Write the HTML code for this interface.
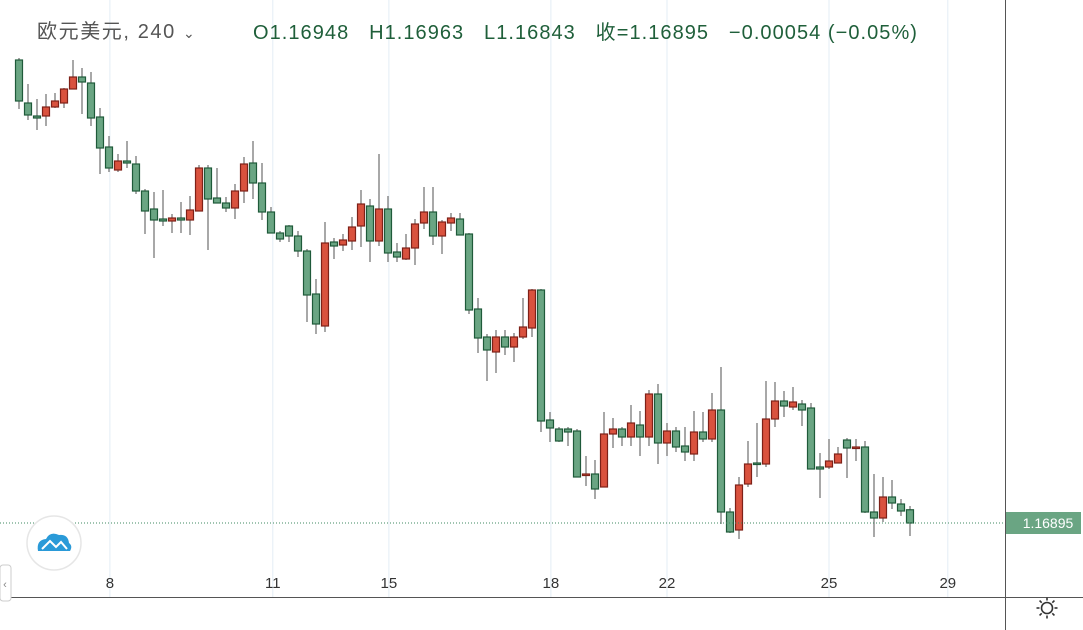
<!DOCTYPE html>
<html><head><meta charset="utf-8">
<style>
html,body{margin:0;padding:0;background:#fff;width:1083px;height:630px;overflow:hidden;font-family:"Liberation Sans","Noto Sans CJK SC",sans-serif;}
#hdr{position:absolute;left:37px;top:15px;font-size:20px;color:#555;white-space:nowrap;letter-spacing:1.6px}
#ohlc{position:absolute;left:253px;top:16px;font-size:20px;color:#1f5f3a;white-space:nowrap;letter-spacing:1.05px}
svg{position:absolute;left:0;top:0}
</style></head><body>
<svg id="chart" width="1083" height="630" xmlns="http://www.w3.org/2000/svg"></svg>
<div id="hdr">欧元美元, 240 <span style="font-size:14px">&#8964;</span></div>
<div id="ohlc">O1.16948&nbsp;&nbsp;&nbsp;H1.16963&nbsp;&nbsp;&nbsp;L1.16843&nbsp;&nbsp;&nbsp;收=1.16895&nbsp;&nbsp;&nbsp;−0.00054 (−0.05%)</div>
<script>
const opens=[1.18747,1.18575,1.18523,1.18523,1.18559,1.18575,1.18631,1.18679,1.18655,1.18519,1.18399,1.18307,1.18343,1.18331,1.18223,1.18151,1.18111,1.18103,1.18115,1.18107,1.18143,1.18315,1.18195,1.18175,1.18155,1.18223,1.18335,1.18255,1.18139,1.18055,1.18083,1.18043,1.17983,1.17811,1.17683,1.18019,1.18007,1.18023,1.18083,1.18163,1.18023,1.18151,1.17979,1.17951,1.17995,1.18095,1.18139,1.18043,1.18095,1.18111,1.18051,1.17751,1.17639,1.17579,1.17639,1.17599,1.17639,1.17675,1.17827,1.17307,1.17271,1.17271,1.17263,1.17087,1.17091,1.17039,1.17251,1.17271,1.17239,1.17287,1.17239,1.17411,1.17215,1.17263,1.17203,1.17171,1.17259,1.17231,1.17347,1.16939,1.16867,1.17051,1.17135,1.17131,1.17311,1.17383,1.17359,1.17371,1.17355,1.17119,1.17119,1.17135,1.17227,1.17195,1.17199,1.16939,1.16915,1.16999,1.16971,1.16948];
const highs=[1.18755,1.18651,1.18591,1.18611,1.18615,1.18635,1.18747,1.18715,1.18699,1.18555,1.18443,1.18371,1.18423,1.18363,1.18231,1.18219,1.18227,1.18131,1.18179,1.18203,1.18327,1.18327,1.18315,1.18199,1.18251,1.18359,1.18423,1.18335,1.18159,1.18063,1.18087,1.18063,1.17991,1.17871,1.18099,1.18035,1.18051,1.18119,1.18227,1.18191,1.18371,1.18203,1.18015,1.18051,1.18111,1.18239,1.18239,1.18107,1.18135,1.18135,1.18055,1.17795,1.17651,1.17667,1.17667,1.17655,1.17795,1.17831,1.17831,1.17339,1.17279,1.17279,1.17271,1.17163,1.17147,1.17339,1.17315,1.17279,1.17367,1.17343,1.17427,1.17451,1.17295,1.17279,1.17279,1.17343,1.17339,1.17415,1.17519,1.16955,1.17079,1.17223,1.17295,1.17463,1.17459,1.17423,1.17439,1.17387,1.17375,1.17175,1.17231,1.17199,1.17235,1.17231,1.17223,1.17091,1.17079,1.17067,1.16991,1.16963];
const lows=[1.18551,1.18507,1.18467,1.18483,1.18555,1.18555,1.18631,1.18531,1.18483,1.18291,1.18299,1.18299,1.18315,1.18211,1.18051,1.17955,1.18083,1.18055,1.18055,1.18047,1.18143,1.17987,1.18175,1.18139,1.18111,1.18175,1.18191,1.18107,1.18055,1.18019,1.18019,1.17959,1.17699,1.17651,1.17659,1.17951,1.17983,1.17987,1.17999,1.17939,1.18003,1.17939,1.17939,1.17947,1.17927,1.18071,1.18007,1.17971,1.18063,1.18047,1.17731,1.17575,1.17463,1.17495,1.17567,1.17539,1.17631,1.17639,1.17259,1.17219,1.17219,1.17203,1.17079,1.17043,1.16991,1.17039,1.17195,1.17203,1.17203,1.17163,1.17203,1.17131,1.17163,1.17179,1.17143,1.17143,1.17219,1.17219,1.16891,1.16855,1.16831,1.17039,1.17079,1.17119,1.17279,1.17319,1.17347,1.17283,1.17111,1.16995,1.17111,1.17135,1.17075,1.17143,1.16935,1.16839,1.16899,1.16951,1.16923,1.16843];
const closes=[1.18583,1.18527,1.18515,1.18559,1.18583,1.18631,1.18679,1.18659,1.18515,1.18395,1.18315,1.18343,1.18335,1.18223,1.18143,1.18107,1.18103,1.18115,1.18107,1.18147,1.18315,1.18191,1.18175,1.18155,1.18223,1.18331,1.18255,1.18139,1.18055,1.18031,1.18043,1.17983,1.17807,1.17691,1.18015,1.18003,1.18027,1.18079,1.18171,1.18023,1.18151,1.17975,1.17959,1.17995,1.18091,1.18139,1.18043,1.18099,1.18115,1.18047,1.17747,1.17635,1.17587,1.17639,1.17599,1.17639,1.17679,1.17827,1.17303,1.17275,1.17223,1.17259,1.17079,1.17091,1.17031,1.17251,1.17271,1.17239,1.17295,1.17239,1.17411,1.17215,1.17263,1.17199,1.17179,1.17259,1.17231,1.17347,1.16939,1.16859,1.17047,1.17131,1.17131,1.17311,1.17383,1.17363,1.17379,1.17347,1.17111,1.17111,1.17143,1.17171,1.17195,1.17199,1.16939,1.16915,1.16999,1.16975,1.16943,1.16895];
const dateLabels=["8","11","15","18","22","25","29"];
const dateIndex=[10.1,28.2,41.1,59.1,72,90,103.2];
const lastPrice=1.16895;

const NS="http://www.w3.org/2000/svg";
const svg=document.getElementById('chart');
function xAt(i){return 19+9*i;}
function yAt(p){return 523-(p-1.16895)/0.00004;}
function mk(t,a,parent){const e=document.createElementNS(NS,t);for(const k in a)e.setAttribute(k,a[k]);(parent||svg).appendChild(e);return e;}

dateIndex.forEach((d,k)=>{
  const g=mk('line',{x1:xAt(d),x2:xAt(d),y1:0,y2:597,stroke:'#e3edf5','stroke-width':1});
  
  
  const t=mk('text',{x:xAt(d),y:588,'text-anchor':'middle','font-size':15,fill:'#333','font-family':'Liberation Sans, sans-serif'});
  t.textContent=dateLabels[k];
  
  
});
let a1=mk('line',{x1:0,x2:1083,y1:597.5,y2:597.5,stroke:'#555','stroke-width':1});


let a2=mk('line',{x1:1005.5,x2:1005.5,y1:0,y2:630,stroke:'#555','stroke-width':1});



for(let i=0;i<opens.length;i++){
  const o=opens[i],h=highs[i],l=lows[i],c=closes[i];
  const up=c>=o;
  const x=xAt(i);
  const w=mk('line',{x1:x,x2:x,y1:yAt(h),y2:yAt(l),stroke:'#8a8a8a','stroke-width':1.5});
  
  
  const top=yAt(Math.max(o,c)),bot=yAt(Math.min(o,c));
  const b=mk('rect',{x:x-3.5,y:top,width:7,height:Math.max(bot-top,1.5),fill:up?'#d9523e':'#6aa583',stroke:up?'#7e2118':'#1f5a3a','stroke-width':1.2});
  
  
}

const ly=yAt(lastPrice);
let lp=mk('line',{x1:0,x2:1005,y1:ly,y2:ly,stroke:'#3f8a60','stroke-width':1,'stroke-dasharray':'1,2'});


let lb=mk('rect',{x:1006,y:ly-11,width:75,height:22,fill:'#6aa583'});


let lt=mk('text',{x:1048,y:ly+5,'text-anchor':'middle','font-size':14,fill:'#fff','font-family':'Liberation Sans, sans-serif'});
lt.textContent=lastPrice.toFixed(5);



let lg=mk('circle',{cx:54,cy:543,r:27,fill:'#fff',stroke:'#e6e6e6','stroke-width':1.5});


let cl=mk('path',{d:'M38 551 Q36 540 46 539 Q50 531 59 535 Q68 534 69 543 Q73 546 70 551 Z',fill:'#2a9ad8'});


let cw=mk('path',{d:'M42 549 L50 541 L56 547 L61 542 L67 549',fill:'none',stroke:'#fff','stroke-width':2});



let tb=mk('rect',{x:0,y:565,width:11,height:36,rx:3,fill:'#fff',stroke:'#ccc'});


let tt=mk('text',{x:5,y:588,'text-anchor':'middle','font-size':11,fill:'#888'});
tt.textContent='‹';



const sg=mk('g',{stroke:'#333','stroke-width':1.6,fill:'none'});


mk('circle',{cx:1047,cy:608,r:5.5},sg);
for(let k=0;k<8;k++){const an=k*Math.PI/4;mk('line',{x1:1047+Math.cos(an)*7.5,y1:608+Math.sin(an)*7.5,x2:1047+Math.cos(an)*10.5,y2:608+Math.sin(an)*10.5},sg);}
</script>
</body></html>
